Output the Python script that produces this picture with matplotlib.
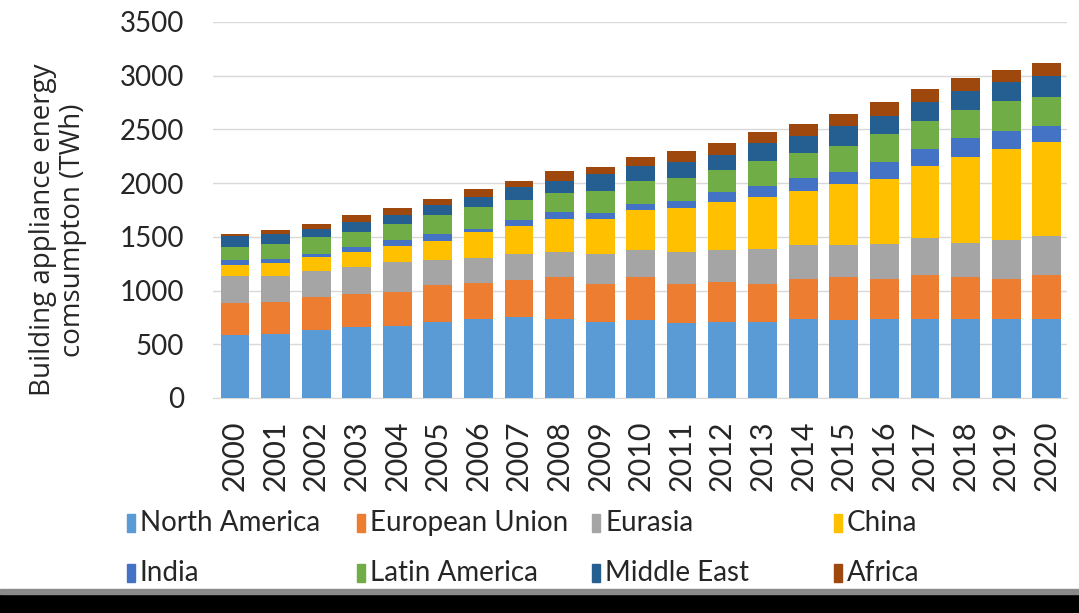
import matplotlib
matplotlib.use("Agg")
import matplotlib.pyplot as plt
import numpy as np
from matplotlib.patches import Rectangle

plt.rcParams["font.family"] = ["Lato", "DejaVu Sans"]

years = [str(y) for y in range(2000, 2021)]
north_america = [585, 600, 631, 662, 671, 709, 740, 755, 740, 709, 724,
                 694, 709, 709, 731, 724, 731, 740, 740, 740, 740]
european_union = [300, 294, 309, 310, 316, 340, 331, 341, 387, 356, 403,
                  371, 371, 356, 380, 403, 380, 402, 387, 371, 402]
eurasia = [250, 239, 239, 247, 279, 232, 235, 241, 231, 278, 247,
           293, 294, 325, 310, 294, 325, 350, 316, 356, 362]
china = [100, 123, 133, 139, 145, 180, 238, 260, 310, 325, 372,
         413, 449, 480, 510, 572, 604, 671, 799, 851, 876]
india = [45, 41, 31, 47, 56, 68, 31, 56, 62, 53, 62,
         67, 93, 108, 118, 109, 154, 155, 179, 170, 155]
latin_america = [130, 139, 155, 139, 155, 170, 201, 192, 176, 204, 216,
                 211, 207, 227, 229, 247, 264, 263, 260, 273, 263]
middle_east = [95, 93, 77, 93, 77, 93, 93, 117, 118, 161, 139,
               145, 143, 166, 164, 186, 170, 170, 173, 178, 201]
africa = [25, 37, 47, 62, 72, 56, 78, 56, 93, 62, 84,
          102, 105, 102, 109, 108, 123, 125, 124, 112, 124]

series = [
    ("North America", north_america, "#5B9BD5"),
    ("European Union", european_union, "#ED7D31"),
    ("Eurasia", eurasia, "#A5A5A5"),
    ("China", china, "#FFC000"),
    ("India", india, "#4472C4"),
    ("Latin America", latin_america, "#70AD47"),
    ("Middle East", middle_east, "#255E91"),
    ("Africa", africa, "#9E480E"),
]

W, H = 1079, 613
fig = plt.figure(figsize=(W / 100, H / 100), dpi=100)
ax = fig.add_axes([213 / W, 1 - 398 / H, (1067 - 213) / W, (398 - 22) / H])

x = np.arange(len(years))
bottom = np.zeros(len(years))
for name, vals, col in series:
    ax.bar(x, vals, 0.71, bottom=bottom, color=col, zorder=3)
    bottom += np.array(vals)

ax.set_ylim(0, 3500)
ax.set_xlim(-0.54, 20.5)
ax.set_yticks(range(0, 3501, 500))
ax.yaxis.grid(True, color="#D9D9D9", lw=1, zorder=0)
for s in ("top", "right", "left"):
    ax.spines[s].set_visible(False)
ax.spines["bottom"].set_color("#D9D9D9")
ax.tick_params(axis="y", length=0, pad=21, labelsize=20, labelcolor="#262626")
ax.tick_params(axis="x", length=0, pad=16, labelsize=22, labelcolor="#262626")
ax.set_xticks(x)
ax.set_xticklabels(years, rotation=90)

fig.text(58 / W, 1 - 230 / H, "Building appliance energy\ncomsumpton (TWh)",
         rotation=90, ha="center", va="center", fontsize=20,
         family=["Open Sans", "DejaVu Sans"],
         color="#262626", linespacing=1.05, multialignment="center")

# legend laid out as a 4x2 grid like the original
col_x = [127, 357, 592, 834]
row_y = [523, 573]
for i, (name, vals, col) in enumerate(series):
    cx = col_x[i % 4]
    cy = row_y[i // 4]
    fig.add_artist(Rectangle((cx / W, 1 - (cy + 9) / H), 8 / W, 18 / H,
                             transform=fig.transFigure, color=col))
    fig.text((cx + 13) / W, 1 - cy / H, name, ha="left", va="center",
             fontsize=20, color="#262626")

# dark strip along the bottom edge
fig.add_artist(Rectangle((0, 0), 1, 19 / H, transform=fig.transFigure,
                         color="black"))
fig.add_artist(Rectangle((0, 19 / H), 1, 5 / H, transform=fig.transFigure,
                         color="#8a8a8a"))

fig.savefig("out.png", dpi=100)
